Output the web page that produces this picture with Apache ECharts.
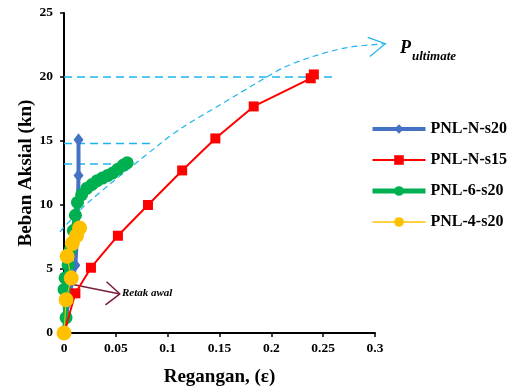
<!DOCTYPE html>
<html>
<head>
<meta charset="utf-8">
<script src="https://cdn.jsdelivr.net/npm/echarts@6/dist/echarts.min.js"></script>
<style>
  html, body { margin: 0; padding: 0; background: #fff; }
  #chart { width: 516px; height: 386px; }
</style>
</head>
<body>
<div id="chart"></div>
<script>
// strain (x) / axial load kN (y)
var pnlN20 = [[0, 0], [0.004, 2.4], [0.011, 5.3], [0.013, 8.5], [0.014, 12.3], [0.014, 15.1]];
var pnlN15 = [[0, 0], [0.011, 3.1], [0.026, 5.1], [0.052, 7.6], [0.081, 10.0], [0.114, 12.7],
              [0.146, 15.2], [0.183, 17.7], [0.238, 19.9], [0.241, 20.2]];
var pnl6 = [[0, 0], [0.002, 1.2], [0, 3.4], [0.001, 4.3], [0.004, 5.3], [0.006, 6.5], [0.009, 8.0],
            [0.011, 9.2], [0.013, 10.2], [0.017, 10.8], [0.022, 11.3], [0.027, 11.6], [0.032, 11.9],
            [0.037, 12.1], [0.042, 12.3], [0.047, 12.5], [0.052, 12.8], [0.057, 13.1], [0.061, 13.3]];
var pnl4 = [[0, 0], [0.002, 2.6], [0.007, 4.3], [0.003, 6.0], [0.008, 7.0], [0.012, 7.6], [0.015, 8.2]];

// annotation guides (data coords)
var guideUlt = [[0, 20], [0.26, 20]];
var guideN20 = [[0, 14.8], [0.085, 14.8]];
var guideG = [[0, 13.2], [0.06, 13.2]];
var ultCurve = [[-0.004, 7.9], [0.022, 10.1], [0.093, 14.8], [0.115, 16.1], [0.148, 17.7],
                [0.179, 19.2], [0.211, 20.7], [0.240, 21.6], [0.273, 22.3], [0.31, 22.6]];
var ultHead = [[0.293, 23.1], [0.31, 22.6], [0.295, 21.6]];
var crackLine = [[0.005, 3.85], [0.054, 3.05]];
var crackHead = [[0.041, 4.0], [0.054, 3.05], [0.040, 2.2]];

var serif = 'Liberation Serif';
var chart = echarts.init(document.getElementById('chart'));

function guide(data, w, dash, color) {
  return {
    type: 'line', data: data, symbol: 'none', silent: true, z: 1,
    lineStyle: { color: color || '#1fb4ee', width: w, type: dash },
    emphasis: { disabled: true }
  };
}

chart.setOption({
  animation: false,
  grid: { left: 64, right: 141, top: 13, bottom: 53, outerBoundsMode: 'none', containLabel: false },
  legend: {
    data: [
      { name: 'PNL-N-s20', lineStyle: { width: 4 } },
      { name: 'PNL-N-s15', lineStyle: { width: 2 } },
      { name: 'PNL-6-s20', lineStyle: { width: 5 } },
      { name: 'PNL-4-s20', lineStyle: { width: 1.5 } }
    ],
    orient: 'vertical', left: 365, top: 116,
    itemWidth: 53, itemHeight: 12, itemGap: 15,
    textStyle: { fontFamily: serif, fontWeight: 'bold', fontSize: 16, color: '#000' }
  },
  xAxis: {
    type: 'value', min: 0, max: 0.3, interval: 0.05,
    name: 'Regangan, (ε)', nameLocation: 'middle', nameGap: 35, nameMoveOverlap: false,
    nameTextStyle: { fontFamily: serif, fontWeight: 'bold', fontSize: 19, color: '#000' },
    axisLine: { lineStyle: { color: '#000', width: 2 } },
    axisTick: { show: true, length: 4, lineStyle: { color: '#000', width: 1.5 } },
    axisLabel: { fontFamily: serif, fontWeight: 'bold', fontSize: 13.5, color: '#000', margin: 9 },
    splitLine: { show: false }
  },
  yAxis: {
    type: 'value', min: 0, max: 25, interval: 5,
    name: 'Beban Aksial (kn)', nameLocation: 'middle', nameGap: 28, nameMoveOverlap: false,
    nameTextStyle: { fontFamily: serif, fontWeight: 'bold', fontSize: 19, color: '#000' },
    axisLine: { show: true, lineStyle: { color: '#000', width: 2 } },
    axisTick: { show: true, length: 4, lineStyle: { color: '#000', width: 1.5 } },
    axisLabel: { fontFamily: serif, fontWeight: 'bold', fontSize: 13.5, color: '#000', margin: 11 },
    splitLine: { show: false }
  },
  series: [
    guide(guideUlt, 1.5, [8, 5]),
    guide(guideN20, 1.5, [8, 5]),
    guide(guideG, 1.5, [8, 5]),
    guide(crackLine, 1.5, 'solid', '#7a1c3c'),
    guide(crackHead, 1.5, 'solid', '#7a1c3c'),
    {
      name: 'PNL-N-s20', type: 'line', data: pnlN20, z: 3,
      symbol: 'diamond', symbolSize: [10, 13],
      lineStyle: { color: '#4472c4', width: 4 }, itemStyle: { color: '#4472c4' }
    },
    {
      name: 'PNL-N-s15', type: 'line', data: pnlN15, z: 5,
      symbol: 'rect', symbolSize: 10,
      lineStyle: { color: '#ff0000', width: 2 }, itemStyle: { color: '#ff0000' }
    },
    {
      name: 'PNL-6-s20', type: 'line', data: pnl6, z: 4,
      symbol: 'circle', symbolSize: 13,
      lineStyle: { color: '#00b050', width: 5 }, itemStyle: { color: '#00b050' }
    },
    {
      name: 'PNL-4-s20', type: 'line', data: pnl4, z: 6,
      symbol: 'circle', symbolSize: 15,
      lineStyle: { color: '#ffc000', width: 1 }, itemStyle: { color: '#ffc000' }
    }
  ]
});

// the ultimate-load curve runs past the axis end, so draw it as graphic on top of the grid
function toPx(pts) {
  return pts.map(function (p) { return chart.convertToPixel({ gridIndex: 0 }, p); });
}
chart.setOption({
  graphic: [
    {
      type: 'polyline', z: 1, silent: true,
      shape: { points: toPx(ultCurve), smooth: 0.3 },
      style: { stroke: '#1fb4ee', lineWidth: 1.2, lineDash: [6, 4], fill: null }
    },
    {
      type: 'polyline', z: 1, silent: true,
      shape: { points: toPx(ultHead) },
      style: { stroke: '#1fb4ee', lineWidth: 1.2, fill: null }
    },
    {
      type: 'text', left: 122, top: 288,
      style: { text: 'Retak awal', font: 'italic bold 11px "Liberation Serif"', fill: '#000' }
    },
    {
      type: 'text', left: 400, top: 39,
      style: { text: 'P', font: 'italic bold 18px "Liberation Serif"', fill: '#000' }
    },
    {
      type: 'text', left: 412, top: 50,
      style: { text: 'ultimate', font: 'italic bold 13px "Liberation Serif"', fill: '#000' }
    }
  ]
});
</script>
</body>
</html>
